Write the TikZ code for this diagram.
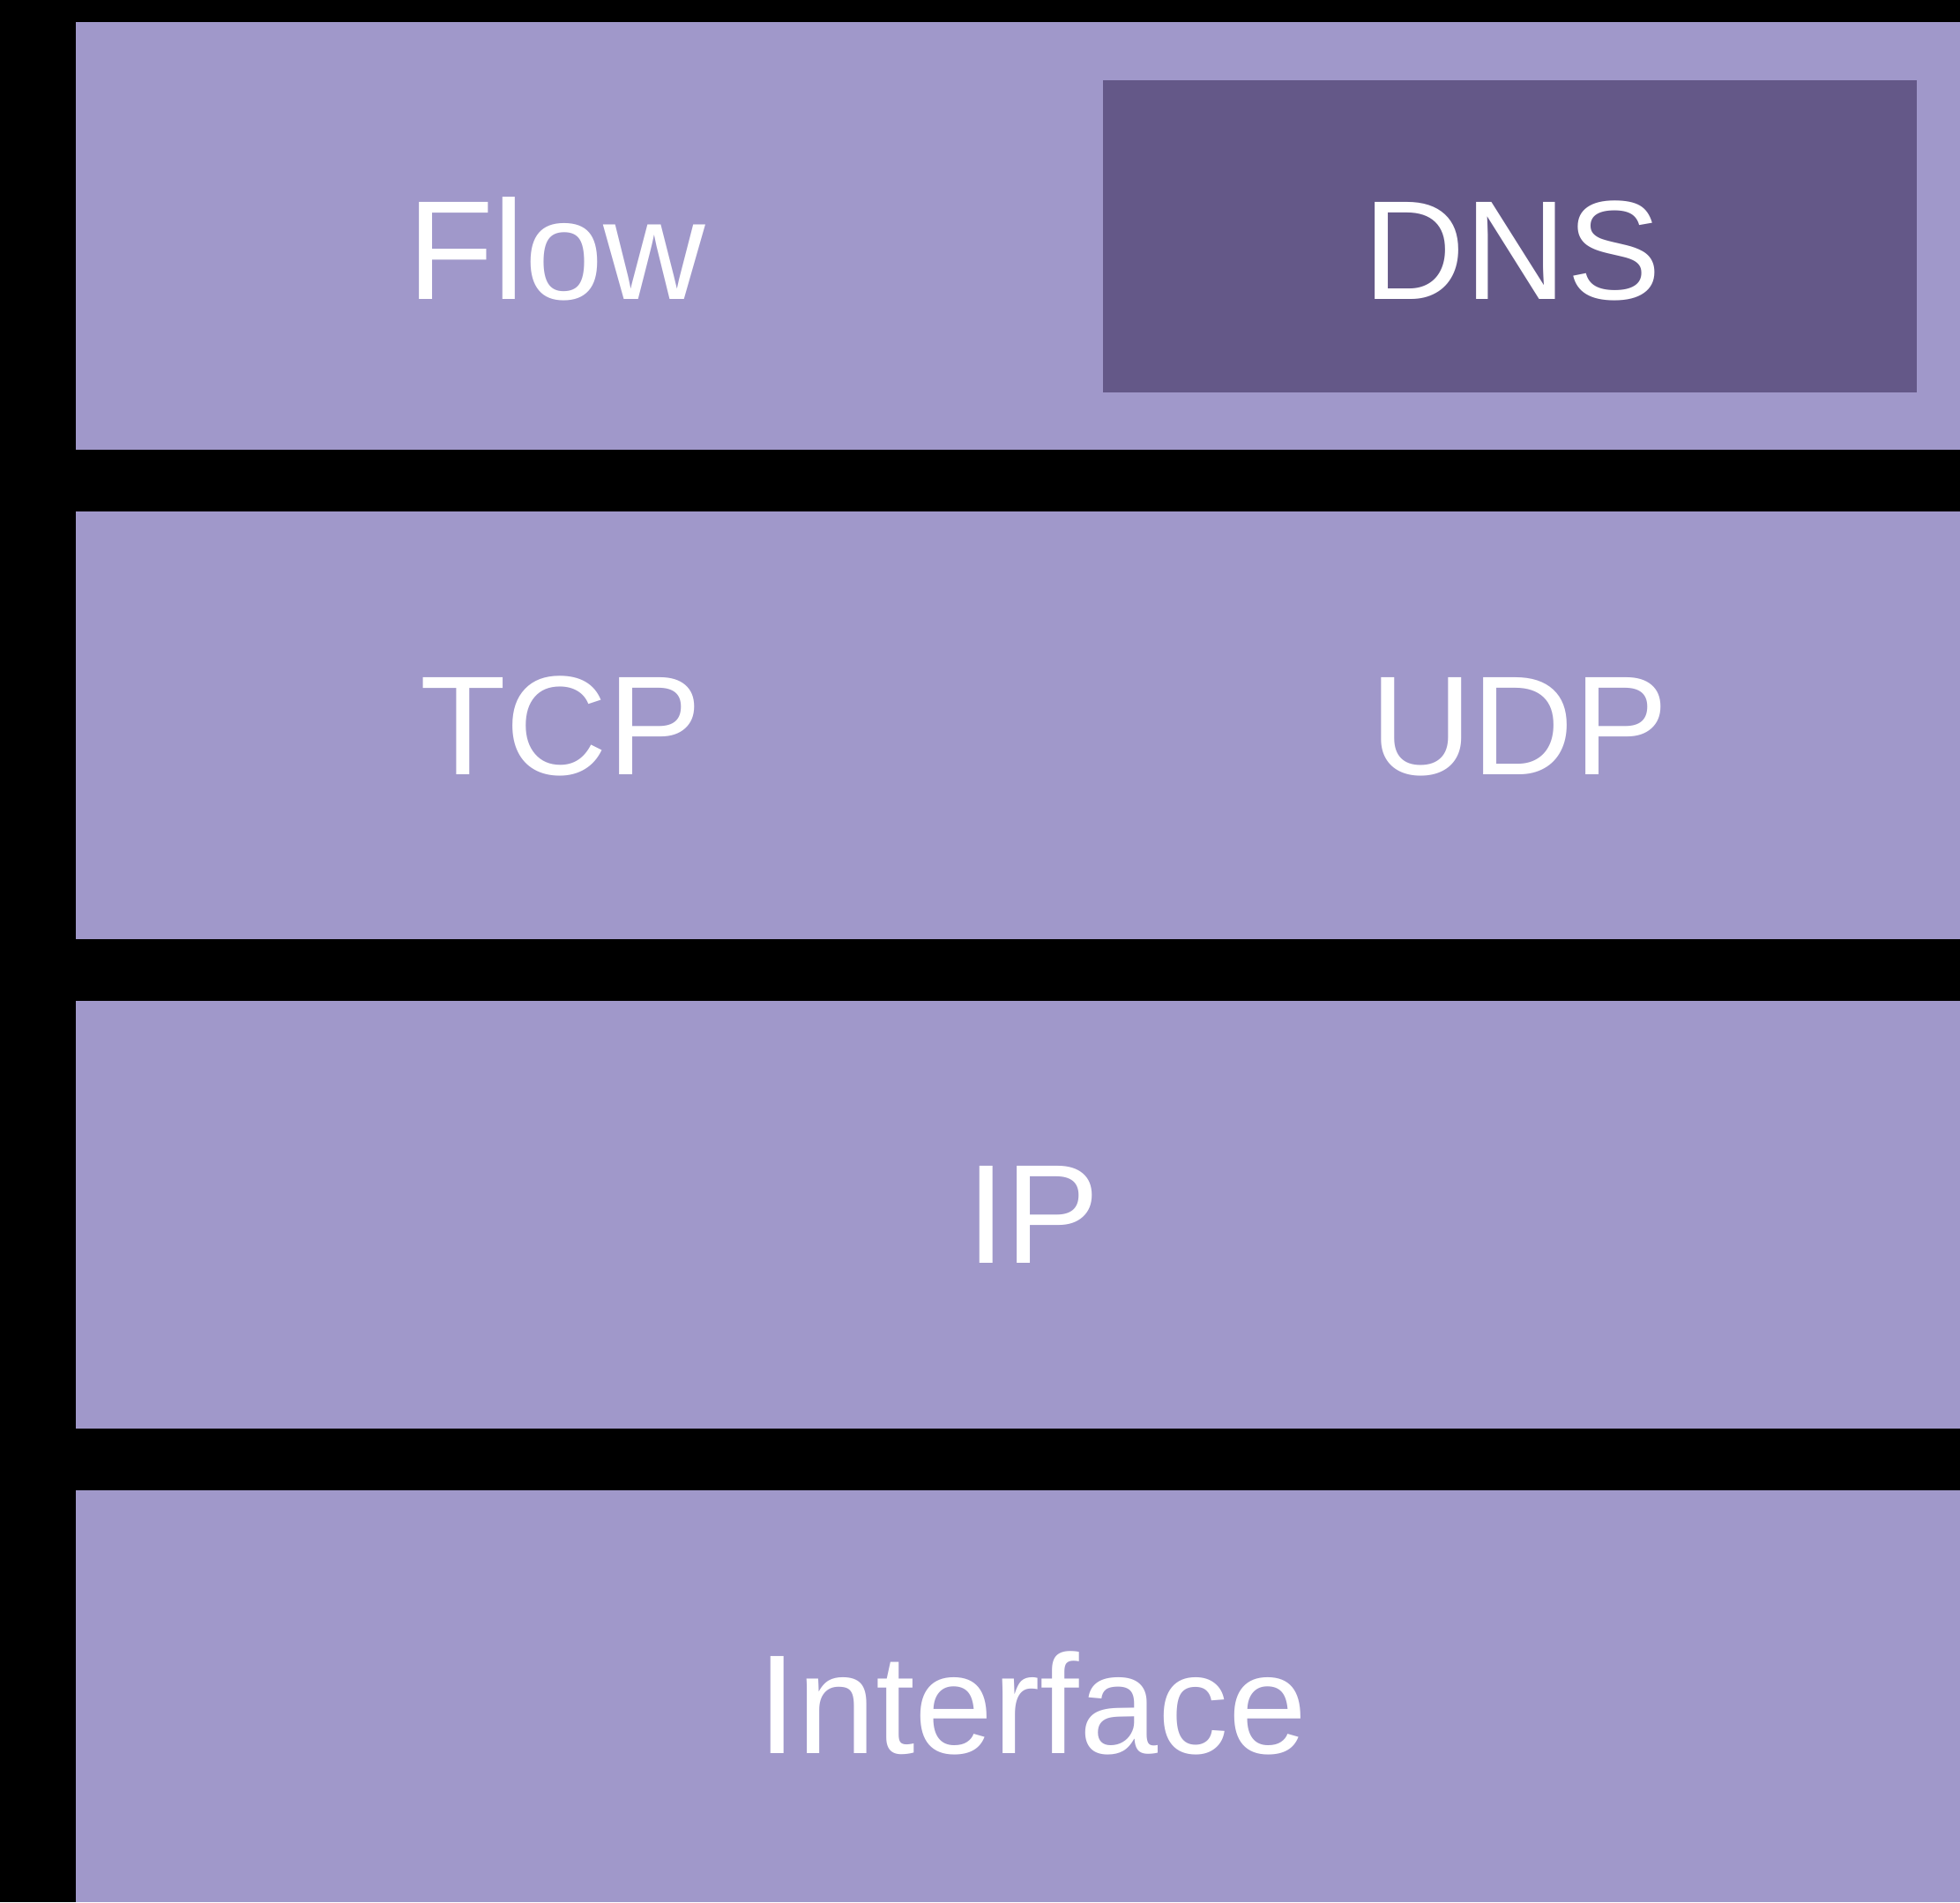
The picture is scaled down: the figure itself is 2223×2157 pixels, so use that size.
\documentclass[tikz,border=0pt]{standalone}
\usepackage{fontspec}
\setmainfont{Liberation Sans}
\definecolor{layer}{HTML}{A098CA}
\definecolor{dnsbox}{HTML}{645888}
\begin{document}
\begin{tikzpicture}[x=1pt,y=1pt,
  row/.style={fill=layer,draw=none,inner sep=0pt,outer sep=0pt,anchor=north west,minimum width=2137pt},
  dark/.style={fill=dnsbox,draw=none,inner sep=0pt,outer sep=0pt,anchor=north west},
  lbl/.style={text=white,inner sep=0pt,anchor=base,font=\fontsize{160}{190}\selectfont}]
\fill[black] (0,0) rectangle (2223,2157);
\useasboundingbox (0,0) rectangle (2223,2157);
\node[row,minimum height=485pt] (r1) at (86,2132) {};
\node[row,minimum height=485pt] (r2) at (86,1577) {};
\node[row,minimum height=485pt] (r3) at (86,1022) {};
\node[row,minimum height=467pt] (r4) at (86,467) {};
\node[dark,minimum width=923pt,minimum height=354pt] (dns) at (1251,2066) {};
\node[lbl] (tflow) at (631,1817) {Flow};
\node[lbl] (tdns) at (1715,1817) {DNS};
\node[lbl] (ttcp) at (636,1278) {TCP};
\node[lbl] (tudp) at (1723,1278) {UDP};
\node[lbl] (tip) at (1172,724) {IP};
\node[lbl] (tif) at (1171,169) {Interface};
\end{tikzpicture}
\end{document}
